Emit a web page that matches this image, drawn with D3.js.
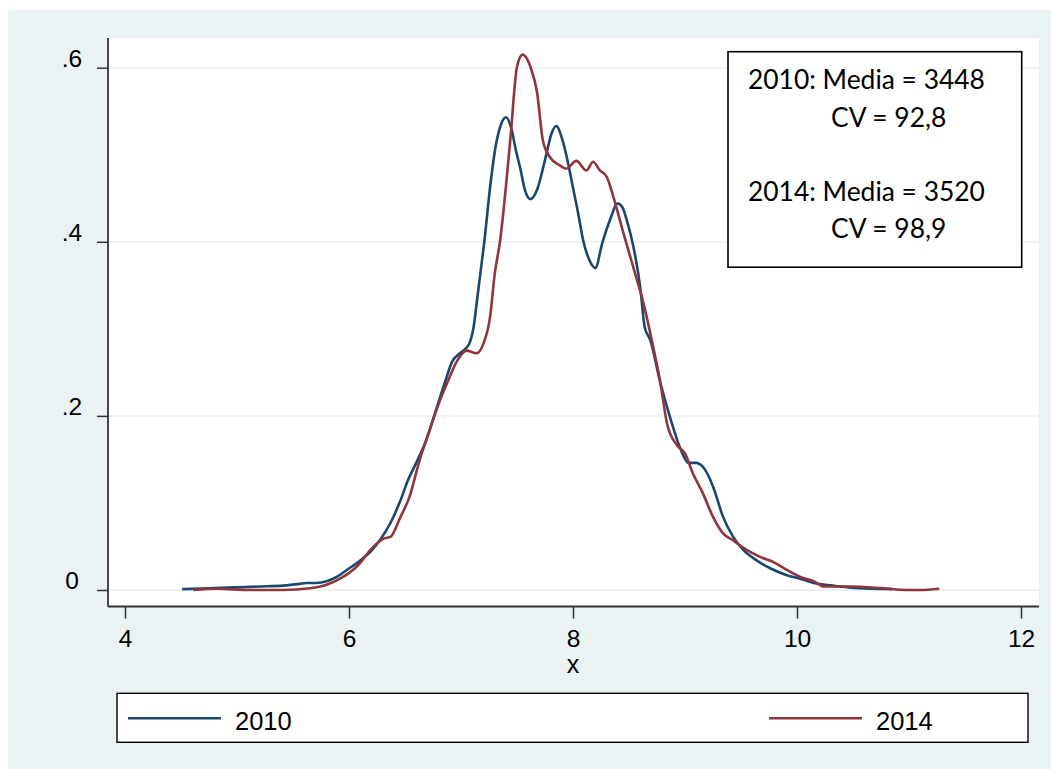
<!DOCTYPE html>
<html>
<head>
<meta charset="utf-8">
<script src="https://cdn.jsdelivr.net/npm/d3@7"></script>
<style>
  html, body { margin: 0; padding: 0; background: #ffffff; }
  svg { display: block; }
</style>
</head>
<body>
<svg id="chart" width="1051" height="769"></svg>
<script>
// Kernel density estimates of log income, x = ln(ingreso)
const xTicks = [4, 6, 8, 10, 12];
const yTicks = [0, 0.2, 0.4, 0.6];
const yTickLabels = ["0", ".2", ".4", ".6"];
const seriesNames = ["2010", "2014"];
const seriesColors = ["#1a476f", "#90353b"];

const x2010 = [4.51, 4.75, 4.97, 5.21, 5.41, 5.56, 5.62, 5.71, 5.80, 5.89, 5.98, 6.10, 6.20, 6.28, 6.37, 6.46, 6.52, 6.60, 6.69, 6.78, 6.86, 6.92, 6.99, 7.07, 7.11, 7.15, 7.18, 7.21, 7.26, 7.31, 7.35, 7.40, 7.45, 7.49, 7.53, 7.57, 7.62, 7.68, 7.75, 7.81, 7.85, 7.91, 7.96, 8.00, 8.05, 8.09, 8.15, 8.20, 8.26, 8.33, 8.40, 8.44, 8.48, 8.54, 8.60, 8.64, 8.69, 8.78, 8.87, 8.96, 9.03, 9.10, 9.18, 9.25, 9.34, 9.43, 9.52, 9.64, 9.76, 9.91, 10.03, 10.15, 10.32, 10.55, 10.85];
const d2010 = [0.001, 0.002, 0.003, 0.004, 0.005, 0.007, 0.008, 0.008, 0.010, 0.015, 0.023, 0.034, 0.045, 0.058, 0.077, 0.103, 0.124, 0.146, 0.172, 0.208, 0.240, 0.262, 0.272, 0.282, 0.300, 0.340, 0.371, 0.402, 0.463, 0.510, 0.532, 0.543, 0.530, 0.505, 0.484, 0.460, 0.449, 0.460, 0.494, 0.525, 0.533, 0.515, 0.488, 0.462, 0.430, 0.402, 0.378, 0.370, 0.398, 0.425, 0.444, 0.440, 0.425, 0.394, 0.348, 0.302, 0.287, 0.238, 0.197, 0.162, 0.146, 0.146, 0.138, 0.119, 0.084, 0.061, 0.046, 0.034, 0.025, 0.017, 0.013, 0.008, 0.005, 0.002, 0.001];

const x2014 = [4.61, 4.82, 5.12, 5.41, 5.65, 5.80, 5.92, 6.07, 6.22, 6.31, 6.37, 6.46, 6.54, 6.63, 6.72, 6.81, 6.90, 6.96, 7.05, 7.14, 7.20, 7.26, 7.30, 7.35, 7.44, 7.50, 7.55, 7.58, 7.62, 7.68, 7.73, 7.79, 7.88, 7.94, 8.03, 8.12, 8.18, 8.24, 8.30, 8.36, 8.45, 8.54, 8.63, 8.70, 8.78, 8.84, 8.93, 9.00, 9.07, 9.16, 9.25, 9.34, 9.43, 9.55, 9.67, 9.79, 9.91, 10.03, 10.15, 10.24, 10.47, 10.77, 10.98, 11.10, 11.27];
const d2014 = [0.000, 0.0015, 0.000, 0.000, 0.002, 0.006, 0.013, 0.027, 0.050, 0.059, 0.061, 0.084, 0.107, 0.149, 0.184, 0.217, 0.245, 0.262, 0.275, 0.272, 0.283, 0.314, 0.362, 0.402, 0.517, 0.601, 0.615, 0.612, 0.601, 0.571, 0.517, 0.498, 0.488, 0.484, 0.493, 0.482, 0.492, 0.482, 0.475, 0.452, 0.410, 0.370, 0.329, 0.289, 0.238, 0.191, 0.166, 0.157, 0.134, 0.111, 0.084, 0.065, 0.057, 0.046, 0.038, 0.032, 0.023, 0.015, 0.010, 0.004, 0.004, 0.002, 0.000, 0.000, 0.0015];

const noteLines = ["2010: Media = 3448", "CV = 92,8", "2014: Media = 3520", "CV = 98,9"];
const xTitle = "x";

const series = [
  { name: seriesNames[0], color: seriesColors[0], pts: x2010.map((v, i) => [v, d2010[i]]) },
  { name: seriesNames[1], color: seriesColors[1], pts: x2014.map((v, i) => [v, d2014[i]]) }
];

const svg = d3.select("#chart");
const bg = "#eaf2f3";
const axisColor = "#333333";
const tickFont = "'Liberation Sans', Arial, sans-serif";

// outer graph region
svg.append("rect").attr("x", 8).attr("y", 10).attr("width", 1043).attr("height", 759).attr("fill", bg);

// plot region
const plot = { left: 108, right: 1039, top: 38, bottom: 606.5 };
svg.append("rect")
  .attr("x", plot.left).attr("y", plot.top)
  .attr("width", plot.right - plot.left).attr("height", plot.bottom - plot.top)
  .attr("fill", "#ffffff");

const x = d3.scaleLinear().domain([4, 12]).range([125, 1021]);
const y = d3.scaleLinear().domain([0, 0.6]).range([590, 67.7]);

// horizontal grid lines
svg.append("g").selectAll("line").data(yTicks).join("line")
  .attr("x1", plot.left).attr("x2", plot.right)
  .attr("y1", d => y(d)).attr("y2", d => y(d))
  .attr("stroke", bg).attr("stroke-width", 2);

// density curves
const line = d3.line().x(d => x(d[0])).y(d => y(d[1])).curve(d3.curveMonotoneX);
svg.append("g").selectAll("path").data(series).join("path")
  .attr("d", d => line(d.pts))
  .attr("fill", "none")
  .attr("stroke", d => d.color)
  .attr("stroke-width", 2.6)
  .attr("stroke-linejoin", "round");

// x axis
const xAxis = d3.axisBottom(x).tickValues(xTicks).tickSize(12).tickSizeOuter(0).tickPadding(11.5)
  .tickFormat(d3.format("d"));
const gx = svg.append("g").attr("transform", `translate(0,${plot.bottom})`).call(xAxis);
gx.select(".domain").remove();
gx.selectAll(".tick line").attr("stroke", axisColor).attr("stroke-width", 1.5);
gx.selectAll(".tick text").attr("fill", "#000").style("font-family", tickFont).style("font-size", "24.5px");
svg.append("line").attr("x1", plot.left).attr("x2", plot.right)
  .attr("y1", plot.bottom).attr("y2", plot.bottom)
  .attr("stroke", axisColor).attr("stroke-width", 1.8);

// y axis
const yAxis = d3.axisLeft(y).tickValues(yTicks).tickSize(11).tickSizeOuter(0).tickPadding(0)
  .tickFormat((d, i) => yTickLabels[i]);
const gy = svg.append("g").attr("transform", `translate(${plot.left},0)`).call(yAxis);
gy.select(".domain").remove();
gy.selectAll(".tick line").attr("stroke", axisColor).attr("stroke-width", 1.5);
gy.selectAll(".tick text")
  .attr("x", -36).attr("dy", "-0.05em")
  .attr("text-anchor", "middle")
  .attr("fill", "#000").style("font-family", tickFont).style("font-size", "24.5px");
svg.append("line").attr("x1", plot.left).attr("x2", plot.left)
  .attr("y1", plot.top).attr("y2", plot.bottom)
  .attr("stroke", axisColor).attr("stroke-width", 1.8);

// x axis title
svg.append("text").attr("x", (x(4) + x(12)) / 2).attr("y", 673)
  .attr("text-anchor", "middle").attr("fill", "#000")
  .style("font-family", tickFont).style("font-size", "25px").text(xTitle);

// annotation box
svg.append("rect").attr("x", 728).attr("y", 51.7).attr("width", 293.7).attr("height", 215.5)
  .attr("fill", "#ffffff").attr("stroke", "#000").attr("stroke-width", 1.6);
const noteX = [748, 831, 748, 831];
const noteY = [89, 127, 201, 238];
svg.append("g").selectAll("text").data(noteLines).join("text")
  .attr("x", (d, i) => noteX[i]).attr("y", (d, i) => noteY[i])
  .attr("fill", "#000")
  .style("font-family", "Lato, 'Open Sans', sans-serif").style("font-size", "26.4px")
  .text(d => d);

// legend
svg.append("rect").attr("x", 117).attr("y", 693.3).attr("width", 911).attr("height", 49)
  .attr("fill", "#ffffff").attr("stroke", "#000").attr("stroke-width", 1.4);
const legendX = [128, 769];
const lg = svg.append("g").selectAll("g").data(series).join("g")
  .attr("transform", (d, i) => `translate(${legendX[i]},718.3)`);
lg.append("line").attr("x1", 0).attr("x2", 93).attr("y1", 0).attr("y2", 0)
  .attr("stroke", d => d.color).attr("stroke-width", 2.6);
lg.append("text").attr("x", 107).attr("y", 11.5).attr("fill", "#000")
  .style("font-family", tickFont).style("font-size", "25.5px").text(d => d.name);
</script>
</body>
</html>
